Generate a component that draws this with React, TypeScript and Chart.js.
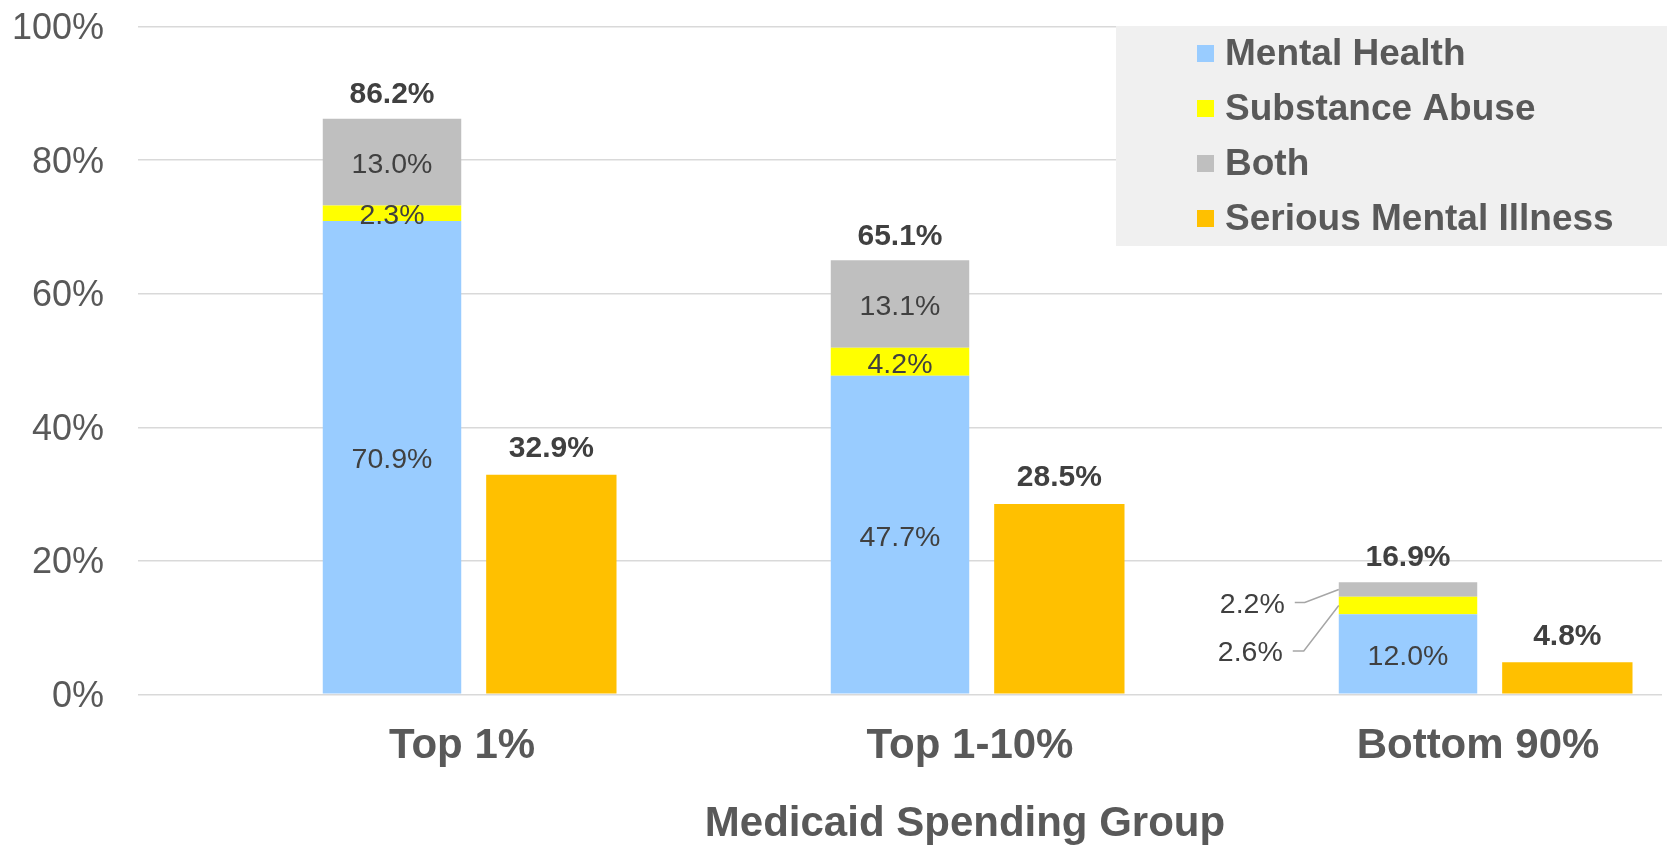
import { useEffect, useRef } from 'react';
import { Chart, registerables } from 'chart.js';

Chart.register(...registerables);

const categories = ['Top 1%', 'Top 1-10%', 'Bottom 90%'];
const mentalHealth = [70.9, 47.7, 12.0];
const substanceAbuse = [2.3, 4.2, 2.6];
const both = [13.0, 13.1, 2.2];
const seriousMentalIllness = [32.9, 28.5, 4.8];
const stackTotals = [86.2, 65.1, 16.9];
const seriesNames = ['Mental Health', 'Substance Abuse', 'Both', 'Serious Mental Illness'];
const seriesColors = ['#99CCFF', '#FFFF00', '#BFBFBF', '#FFC000'];
const axisTitle = 'Medicaid Spending Group';
const outsideLabelIndex = 2;

const FONT = '"Liberation Sans", Arial, Helvetica, sans-serif';
const TEXT = '#595959';
const LABEL = '#404040';

const fmt = (v: number) => v.toFixed(1) + '%';

const labelPlugin = {
  id: 'valueLabels',
  afterDatasetsDraw(chart: any) {
    const ctx = chart.ctx as CanvasRenderingContext2D;
    ctx.save();
    ctx.textBaseline = 'middle';
    for (let di = 1; di <= 3; di++) {
      const meta = chart.getDatasetMeta(di);
      const data = chart.data.datasets[di].data as number[];
      meta.data.forEach((bar: any, i: number) => {
        const p = bar.getProps(['x', 'y', 'base', 'width'], true);
        const cy = (p.y + p.base) / 2;
        const v = data[i];
        ctx.font = `28.5px ${FONT}`;
        ctx.fillStyle = LABEL;
        if (i === outsideLabelIndex && di !== 1) {
          const L = p.x - p.width / 2;
          const off = di === 3
            ? { ex: -34, ey: 13, hx: -44, tx: -54, ty: 16 }
            : { ex: -35, ey: 45.5, hx: -46, tx: -56, ty: 48 };
          ctx.strokeStyle = '#A6A6A6';
          ctx.lineWidth = 1.5;
          ctx.beginPath();
          ctx.moveTo(L, cy);
          ctx.lineTo(L + off.ex, cy + off.ey);
          ctx.lineTo(L + off.hx, cy + off.ey);
          ctx.stroke();
          ctx.textAlign = 'right';
          ctx.fillText(fmt(v), L + off.tx, cy + off.ty);
        } else {
          ctx.textAlign = 'center';
          ctx.fillText(fmt(v), p.x, cy + 3);
        }
      });
    }
    ctx.textAlign = 'center';
    ctx.font = `bold 30px ${FONT}`;
    ctx.fillStyle = LABEL;
    const topMeta = chart.getDatasetMeta(3);
    topMeta.data.forEach((bar: any, i: number) => {
      const p = bar.getProps(['x', 'y'], true);
      ctx.fillText(fmt(stackTotals[i]), p.x, p.y - 24);
    });
    const smiMeta = chart.getDatasetMeta(4);
    smiMeta.data.forEach((bar: any, i: number) => {
      const p = bar.getProps(['x', 'y'], true);
      ctx.fillText(fmt(seriousMentalIllness[i]), p.x, p.y - 26);
    });
    ctx.restore();
  },
  afterDraw(chart: any) {
    const ctx = chart.ctx as CanvasRenderingContext2D;
    ctx.save();
    ctx.fillStyle = '#F0F0F0';
    ctx.fillRect(1116, 26, chart.width - 1116, 220);
    ctx.textBaseline = 'middle';
    ctx.textAlign = 'left';
    ctx.font = `bold 37px ${FONT}`;
    let row = 0;
    chart.data.datasets.forEach((ds: any) => {
      if (!ds.label) return;
      const cy = 53.5 + row * 55;
      ctx.fillStyle = ds.backgroundColor;
      ctx.fillRect(1197, cy - 8.5, 17, 17);
      ctx.fillStyle = TEXT;
      ctx.fillText(ds.label, 1225, cy + 1);
      row++;
    });
    ctx.textAlign = 'center';
    ctx.font = `bold 42px ${FONT}`;
    ctx.fillStyle = TEXT;
    ctx.fillText(axisTitle, 965, 824);
    ctx.restore();
  },
};

export default function App() {
  const ref = useRef<HTMLCanvasElement>(null);
  useEffect(() => {
    if (!ref.current) return;
    const stackedOpts = { categoryPercentage: 0.941, barPercentage: 0.869, borderWidth: 0 };
    const chart = new Chart(ref.current, {
      type: 'bar',
      data: {
        labels: categories,
        datasets: [
          { label: '', data: [0, 0, 0], stack: 'pad', backgroundColor: 'rgba(0,0,0,0)', ...stackedOpts },
          { label: seriesNames[0], data: mentalHealth, stack: 'main', backgroundColor: seriesColors[0], ...stackedOpts },
          { label: seriesNames[1], data: substanceAbuse, stack: 'main', backgroundColor: seriesColors[1], ...stackedOpts },
          { label: seriesNames[2], data: both, stack: 'main', backgroundColor: seriesColors[2], ...stackedOpts },
          { label: seriesNames[3], data: seriousMentalIllness, stack: 'smi', backgroundColor: seriesColors[3], categoryPercentage: 0.941, barPercentage: 0.818, borderWidth: 0 },
        ],
      },
      options: {
        animation: false,
        responsive: false,
        devicePixelRatio: 1,
        layout: { padding: { top: 0, right: 5, left: 0, bottom: 0 } },
        plugins: {
          legend: { display: false },
          tooltip: { enabled: false },
          title: { display: false },
        },
        scales: {
          x: {
            stacked: true,
            grid: { display: false },
            border: { display: false },
            ticks: {
              color: TEXT,
              font: { family: FONT, size: 42, weight: 'bold' },
              padding: 19,
              labelOffset: 70,
              maxRotation: 0,
              autoSkip: false,
            },
            afterFit: (s: any) => { s.height = 150.7; },
          },
          y: {
            stacked: true,
            min: 0,
            max: 100,
            ticks: {
              stepSize: 20,
              color: TEXT,
              font: { family: FONT, size: 36 },
              padding: 34,
              labelOffset: 2.5,
              callback: (v: any) => v + '%',
            },
            grid: { color: '#D9D9D9', lineWidth: 1.5, drawTicks: false },
            border: { display: false },
            afterFit: (s: any) => { s.width = 138; s.paddingTop = 26.7; },
          },
        },
      },
      plugins: [labelPlugin],
    } as any);
    return () => chart.destroy();
  }, []);
  return (
    <div style={{ position: 'absolute', left: 0, top: 0, width: 1667, height: 845, background: '#fff' }}>
      <canvas ref={ref} width={1667} height={845} style={{ width: 1667, height: 845, display: 'block' }} />
    </div>
  );
}
